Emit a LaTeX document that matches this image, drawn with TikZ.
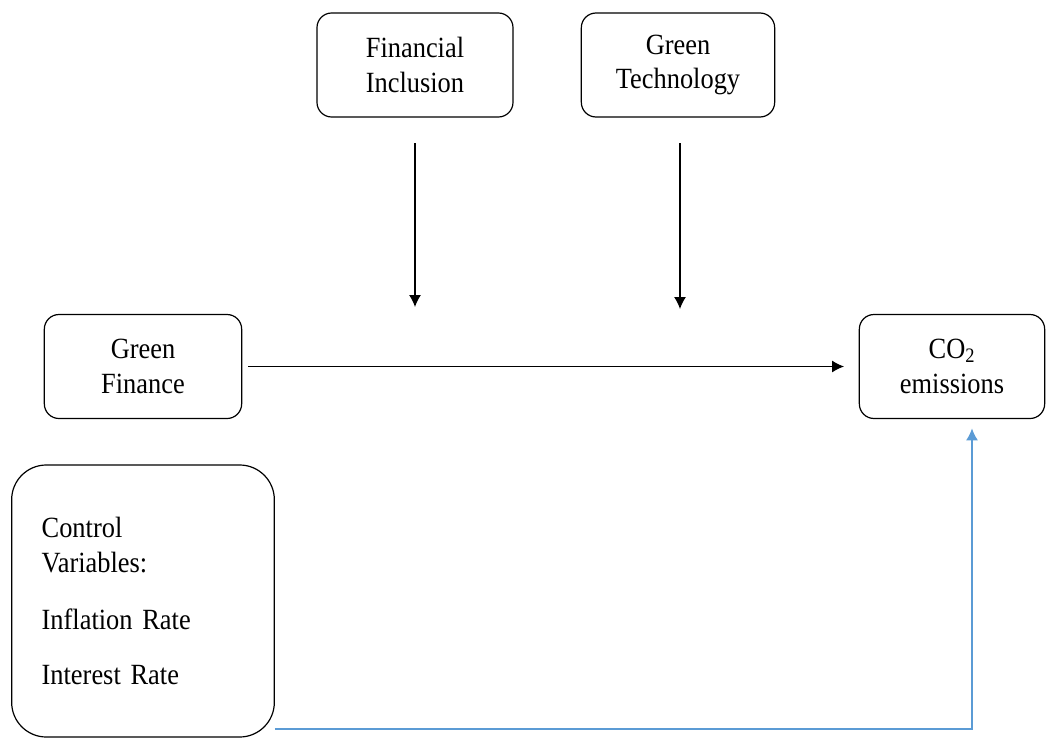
\documentclass[tikz,border=0pt]{standalone}
\usepackage{fontspec}
\setmainfont[FakeStretch=0.9, WordSpace=0.85]{Liberation Serif}
\usetikzlibrary{arrows.meta}

\definecolor{ctrlblue}{RGB}{91,155,213}

\tikzset{
  factor/.style={draw, rounded corners=11pt, line width=0.9pt, align=center, minimum height=78pt, inner sep=2pt},
  ctrlbox/.style={draw, rounded corners=26pt, line width=0.9pt, align=left, text width=152pt, inner xsep=22.5pt, minimum height=204pt},
  link/.style={line width=0.9pt, -{Latex[length=9pt,width=9pt]}},
  ctrllink/.style={line width=0.9pt, ctrlblue, -{Latex[length=9pt,width=9pt]}}
}

\begin{document}
\begin{tikzpicture}[x=0.75pt, y=-0.75pt, font=\fontsize{22}{26}\selectfont]
  \useasboundingbox (0,0) rectangle (1047,739);

  % Moderators on top
  \node[factor, minimum width=147pt] (fin) at (415,65) {Financial\\Inclusion};
  \node[factor, minimum width=145pt] (tech) at (678,65) {Green\\Technology};

  % Main relation
  \node[factor, minimum width=148pt] (gfin) at (143,366.5) {Green\\Finance};
  \node[factor, minimum width=139pt] (co2) at (952,366.5) {CO\textsubscript{2}\\emissions};

  % Control variables
  \node[ctrlbox] (ctrl) at (143,601) {Control\\Variables:\\[17pt]Inflation Rate\\[15pt]Interest Rate};

  % Moderating arrows (free ends)
  \coordinate (fin-from) at (415,143);
  \coordinate (fin-to) at (415,307);
  \coordinate (tech-from) at (680,143);
  \coordinate (tech-to) at (680,309);
  \draw[link] (fin-from) -- (fin-to);
  \draw[link] (tech-from) -- (tech-to);

  \draw[link, shorten <=4.5pt, shorten >=11pt] (gfin) -- (co2);

  % Control path
  \coordinate (ctrl-out) at (ctrl.east |- 0,729);
  \draw[ctrllink, shorten >=7pt] (ctrl-out) -| ([xshift=15pt]co2.south);
\end{tikzpicture}
\end{document}
